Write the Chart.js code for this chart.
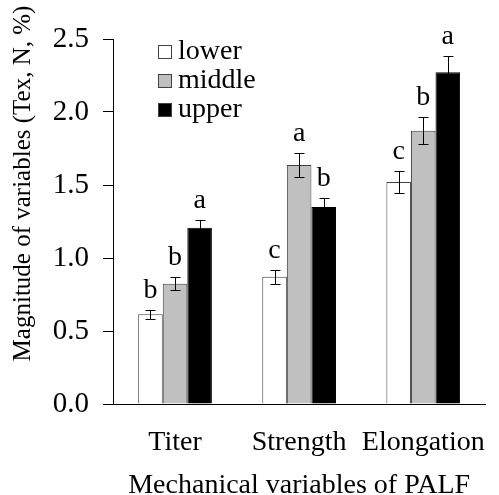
<!DOCTYPE html>
<html>
<head>
<meta charset="utf-8">
<script src="https://cdn.jsdelivr.net/npm/chart.js@4.4.0/dist/chart.umd.min.js"></script>
<style>
html,body{margin:0;padding:0;background:#fff;}
canvas{display:block;}
</style>
</head>
<body>
<canvas id="c" width="499" height="495"></canvas>
<script>
const categories = ["Titer", "Strength", "Elongation"];
const seriesNames = ["lower", "middle", "upper"];
const lowerValues  = [0.614, 0.872, 1.521];
const middleValues = [0.824, 1.637, 1.872];
const upperValues  = [1.207, 1.349, 2.272];
const lowerErrors  = [0.032, 0.048, 0.075];
const middleErrors = [0.043, 0.085, 0.093];
const upperErrors  = [0.053, 0.060, 0.110];
const lowerLetters  = ["b", "c", "c"];
const middleLetters = ["b", "a", "b"];
const upperLetters  = ["a", "b", "a"];
const yTicks = [0.0, 0.5, 1.0, 1.5, 2.0, 2.5];
const xTitle = "Mechanical variables of PALF";
const yTitle = "Magnitude of variables (Tex, N, %)";

const FONT = "'Liberation Serif', 'Times New Roman', serif";
const errors = [lowerErrors, middleErrors, upperErrors];
const letters = [lowerLetters, middleLetters, upperLetters];

const extras = {
  id: 'extras',
  afterDatasetsDraw(chart) {
    const ctx = chart.ctx;
    const ys = chart.scales.y;
    ctx.save();
    chart.data.datasets.forEach((ds, i) => {
      const meta = chart.getDatasetMeta(i);
      meta.data.forEach((bar, j) => {
        const v = ds.data[j], e = errors[i][j];
        const x = Math.round(bar.x) + 0.5;
        const yt = Math.round(ys.getPixelForValue(v + e)) + 0.5;
        const yb = Math.round(ys.getPixelForValue(v - e)) + 0.5;
        ctx.strokeStyle = '#000';
        ctx.lineWidth = 1;
        ctx.beginPath();
        ctx.moveTo(x, yt); ctx.lineTo(x, yb);
        ctx.moveTo(x - 5, yt); ctx.lineTo(x + 5, yt);
        ctx.moveTo(x - 5, yb); ctx.lineTo(x + 5, yb);
        ctx.stroke();
        ctx.fillStyle = '#000';
        ctx.font = '28px ' + FONT;
        ctx.textAlign = 'center';
        ctx.textBaseline = 'alphabetic';
        ctx.fillText(letters[i][j], bar.x, yt - 13);
      });
    });
    ctx.restore();
  },
  afterDraw(chart) {
    const ctx = chart.ctx;
    const ca = chart.chartArea;
    ctx.save();
    ctx.fillStyle = '#000';
    // legend
    ctx.font = '28px ' + FONT;
    ctx.textAlign = 'left';
    ctx.textBaseline = 'alphabetic';
    chart.data.datasets.forEach((ds, i) => {
      const top = 45 + i * 29;
      ctx.fillStyle = ds.backgroundColor;
      ctx.fillRect(158.5, top + 0.5, 13, 13);
      ctx.strokeStyle = '#404040';
      ctx.lineWidth = 1;
      ctx.strokeRect(158.5, top + 0.5, 13, 13);
      ctx.fillStyle = '#000';
      ctx.fillText(ds.label, 178, top + 13.5);
    });
    // x title
    ctx.font = '28px ' + FONT;
    ctx.textAlign = 'center';
    ctx.textBaseline = 'alphabetic';
    ctx.fillText(xTitle, (ca.left + ca.right) / 2, 493);
    // y title
    ctx.translate(23, 183.5);
    ctx.rotate(-Math.PI / 2);
    ctx.font = '25px ' + FONT;
    ctx.textBaseline = 'middle';
    ctx.fillText(yTitle, 0, 0);
    ctx.restore();
  }
};

new Chart(document.getElementById('c'), {
  type: 'bar',
  data: {
    labels: categories,
    datasets: [
      { label: seriesNames[0], data: lowerValues, backgroundColor: '#ffffff', borderColor: '#404040', borderWidth: 1 },
      { label: seriesNames[1], data: middleValues, backgroundColor: '#c0c0c0', borderColor: '#404040', borderWidth: 1 },
      { label: seriesNames[2], data: upperValues, backgroundColor: '#000000', borderColor: '#000000', borderWidth: 1 }
    ]
  },
  options: {
    responsive: false,
    animation: false,
    devicePixelRatio: 1,
    layout: { padding: { top: 39, right: 2, left: 0, bottom: 0 } },
    datasets: { bar: { barPercentage: 1.0, categoryPercentage: 0.594 } },
    plugins: { legend: { display: false }, tooltip: { enabled: false } },
    scales: {
      x: {
        grid: { display: false },
        border: { display: true, color: '#000', width: 1 },
        ticks: { color: '#000', font: { family: FONT, size: 28 }, padding: 14, maxRotation: 0 },
        afterFit(s) { s.height = 91; }
      },
      y: {
        min: 0, max: 2.5,
        afterBuildTicks(s) { s.ticks = yTicks.map(v => ({ value: v })); },
        grid: { drawOnChartArea: false, drawTicks: true, tickLength: 10, color: '#000' },
        border: { display: true, color: '#000', width: 1 },
        ticks: { color: '#000', font: { family: FONT, size: 29 }, padding: 14, callback: v => Number(v).toFixed(1) },
        afterFit(s) { s.width = 113; }
      }
    }
  },
  plugins: [extras]
});
</script>
</body>
</html>
